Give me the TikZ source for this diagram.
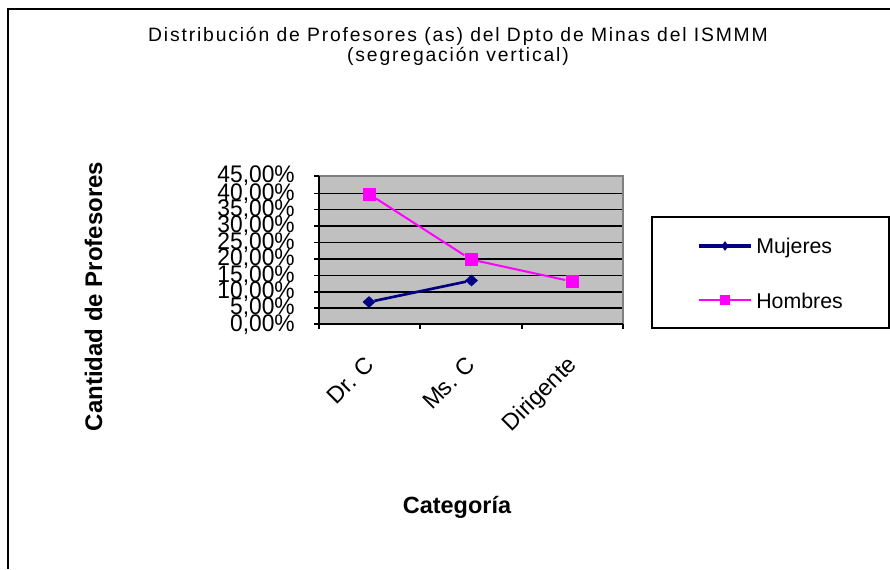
\documentclass[tikz,border=0pt]{standalone}
\usepackage{fontspec}
\usepackage{graphicx}
\setmainfont{Liberation Sans}
\newfontfamily\titlefont[LetterSpace=9.5]{Liberation Sans}
\usetikzlibrary{shapes.geometric}
\definecolor{xlnavy}{HTML}{000080}
\definecolor{xlpink}{HTML}{FF00FF}
\definecolor{xlgray}{HTML}{C0C0C0}
\definecolor{xlborder}{HTML}{808080}
\newcommand{\myTick}[3]{
  \coordinate (#1) at (319,#2);
  \draw[gridline] (#1) -- (#1 -| pr);
  \draw[axisline] (#1) -- ++(-5,0);
  \node[name=#1l, ticklabel] at (295,#2) {\scalebox{0.95}[1]{#3}};
}

\begin{document}
\begin{tikzpicture}[x=0.75pt, y=-0.75pt]
  \tikzset{gridline/.style={black, line width=1.1pt}}
  \tikzset{axisline/.style={black, line width=1.4pt}}
  \tikzset{ticklabel/.style={anchor=east, inner sep=0pt, font=\fontsize{18}{18}\selectfont}}
  \tikzset{catlabel/.style={anchor=base east, rotate=45, inner sep=0pt, font=\fontsize{17.5}{17.5}\selectfont}}
  \tikzset{mline/.style={xlnavy, line width=2pt}}
  \tikzset{hline/.style={xlpink, line width=1.5pt}}
  \tikzset{mdot/.style={diamond, fill=xlnavy, inner sep=0pt, minimum width=9.75pt, minimum height=9pt}}
  \tikzset{hdot/.style={rectangle, fill=xlpink, inner sep=0pt, minimum size=9.75pt}}
  \useasboundingbox (0,0) rectangle (890,569);

  % frame of the chart
  \draw[black, line width=1.5pt] (8,569) -- (8,9) -- (890,9);

  \node[name=title1, anchor=base, inner sep=0pt, font=\titlefont\fontsize{14.5}{14.5}\selectfont] at (458,41)
    {Distribución de Profesores (as) del Dpto de Minas del ISMMM};
  \node[name=title2, anchor=base, inner sep=0pt, font=\titlefont\fontsize{14.5}{14.5}\selectfont] at (458,61)
    {(segregación vertical)};

  % plot area
  \coordinate (pl) at (319,324.3);
  \coordinate (pr) at (623,176);
  \fill[xlgray] (pl) rectangle (pr);

  \myTick{t45}{176}{45,00\%}
  \myTick{t40}{193.5}{40,00\%}
  \myTick{t35}{209.5}{35,00\%}
  \myTick{t30}{226}{30,00\%}
  \myTick{t25}{242.5}{25,00\%}
  \myTick{t20}{259}{20,00\%}
  \myTick{t15}{275.5}{15,00\%}
  \myTick{t10}{292}{10,00\%}
  \myTick{t05}{308}{5,00\%}
  \myTick{t00}{324.3}{0,00\%}

  \draw[xlborder, line width=1.5pt] (pr -| pl) -- (pr) -- (pr |- pl);
  \draw[axisline] (pr -| pl) -- (pl) -- (pl -| pr);

  \draw[axisline] (319,324.3) -- ++(0,5);
  \draw[axisline] (420,324.3) -- ++(0,5);
  \draw[axisline] (522,324.3) -- ++(0,5);
  \draw[axisline] (623,324.3) -- ++(0,5);

  \node[name=cat1, catlabel] at (376,366) {Dr. C};
  \node[name=cat2, catlabel] at (477,366) {Ms. C};
  \node[name=cat3, catlabel] at (578,366) {Dirigente};

  % data
  \node[name=m1, mdot] at (369,302) {};
  \node[name=m2, mdot] at (471.5,280.5) {};
  \node[name=h1, hdot] at (369,194) {};
  \node[name=h2, hdot] at (471,259.5) {};
  \node[name=h3, hdot] at (572,281.5) {};
  \draw[mline] (m1) -- (m2);
  \draw[hline] (h1) -- (h2) -- (h3);

  \node[name=ylab, rotate=90, inner sep=0pt, font=\bfseries\fontsize{18}{18}\selectfont] at (93.5,296.5)
    {Cantidad de Profesores};
  \node[name=xlab, anchor=base, inner sep=0pt, font=\bfseries\fontsize{17.6}{17.6}\selectfont] at (457,513)
    {Categoría};

  % legend
  \draw[black, line width=1.1pt] (652,217) rectangle (889,328);
  \coordinate (lm) at (699,246);
  \coordinate (lh) at (699,300);
  \draw[mline, line width=2.4pt] (lm) -- ++(52,0);
  \draw[hline, line width=1.1pt] (lh) -- ++(52,0);
  \node[name=lmdot, diamond, fill=xlnavy, inner sep=0pt, minimum width=5.5pt, minimum height=7.5pt] at (725,246) {};
  \node[name=lhdot, rectangle, fill=xlpink, inner sep=0pt, minimum size=7.5pt] at (725,300) {};
  \node[name=lmtext, anchor=base west, inner sep=0pt, font=\fontsize{16}{16}\selectfont] at (756,253) {Mujeres};
  \node[name=lhtext, anchor=base west, inner sep=0pt, font=\fontsize{16}{16}\selectfont] at (756,308) {Hombres};
\end{tikzpicture}
\end{document}
